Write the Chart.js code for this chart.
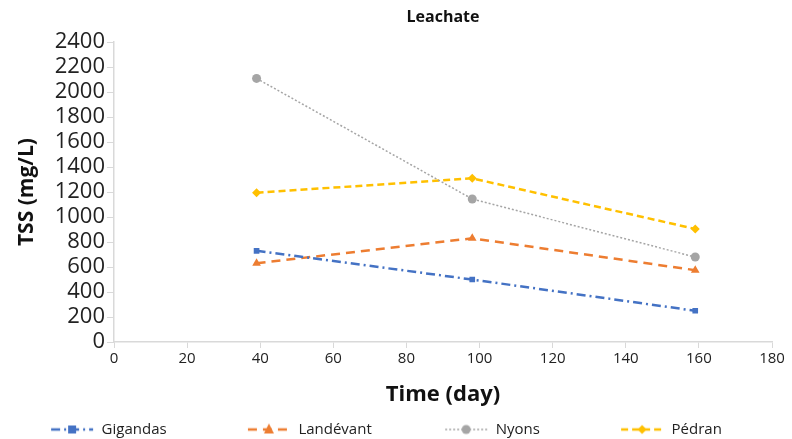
<!DOCTYPE html>
<html>
<head>
<meta charset="utf-8">
<script src="https://cdn.jsdelivr.net/npm/chart.js@4"></script>
<style>
  html,body{margin:0;padding:0;background:#fff;}
  #wrap{width:792px;height:439px;}
</style>
</head>
<body>
<div id="wrap"><canvas id="tss"></canvas></div>
<script>
// data
const days      = [39, 98, 159];
const gigandas  = [730, 500, 250];
const landevant = [630, 830, 575];
const nyons     = [2110, 1145, 680];
const pedran    = [1195, 1310, 905];
const xTicks    = [0, 20, 40, 60, 80, 100, 120, 140, 160, 180];
const yTicks    = [0, 200, 400, 600, 800, 1000, 1200, 1400, 1600, 1800, 2000, 2200, 2400];

const FONT = "'Open Sans', 'Liberation Sans', sans-serif";
const pts = vals => vals.map((v,i)=>({x:days[i], y:v}));

// gap: trailing spaces after the label so items spread out like excel's legend
const series = [
  {label:"Gigandas",  data:gigandas,  color:"#4472C4", dash:[9,4,2,4], width:2.5, style:"rect",     r:4,   gap:17},
  {label:"Landévant", data:landevant, color:"#ED7D31", dash:[9,6],     width:2.5, style:"triangle", r:5,   gap:15},
  {label:"Nyons",     data:nyons,     color:"#A5A5A5", dash:[2,2],     width:1.5, style:"circle",   r:4.5, gap:17},
  {label:"Pédran",    data:pedran,    color:"#FFC000", dash:[7,4],     width:2.5, style:"rectRot",  r:4.5, gap:0}
];

// little legend glyph: dashed line with marker in the middle
function legendGlyph(s){
  const c = document.createElement("canvas");
  c.width = 44; c.height = 14;
  const g = c.getContext("2d");
  g.strokeStyle = s.color; g.lineWidth = s.width; g.setLineDash(s.dash);
  g.beginPath(); g.moveTo(1,7); g.lineTo(43,7); g.stroke();
  g.setLineDash([]); g.fillStyle = s.color;
  const r = s.r;
  g.beginPath();
  if(s.style==="rect") g.rect(22-r,7-r,2*r,2*r);
  else if(s.style==="triangle"){ g.moveTo(22,7-r-1); g.lineTo(22+r,7+r-1); g.lineTo(22-r,7+r-1); g.closePath(); }
  else if(s.style==="circle") g.arc(22,7,r,0,Math.PI*2);
  else { g.moveTo(22,7-r); g.lineTo(22+r,7); g.lineTo(22,7+r); g.lineTo(22-r,7); g.closePath(); }
  g.fill();
  return c;
}

new Chart(document.getElementById("tss"), {
  type: "line",
  data: {
    datasets: series.map(s=>({
      label: s.label,
      data: pts(s.data),
      borderColor: s.color,
      backgroundColor: s.color,
      borderWidth: s.width,
      borderDash: s.dash,
      pointStyle: s.style,
      pointRadius: s.r,
      pointBorderWidth: 0,
      pointBackgroundColor: s.color,
      fill: false,
      tension: 0,
      legendImg: legendGlyph(s),
      legendGap: s.gap
    }))
  },
  options: {
    responsive: true,
    maintainAspectRatio: false,
    animation: false,
    layout: {padding:{left:0, right:20, top:0, bottom:-8}},
    plugins: {
      title: {
        display: true, text: "Leachate", color: "#111", fullSize: false,
        font: {family: FONT, size: 16, weight: "bold"},
        padding: {top: 8, bottom: 15}
      },
      legend: {
        position: "bottom",
        labels: {
          usePointStyle: true,
          pointStyleWidth: 44,
          padding: 14,
          color: "#222",
          font: {family: FONT, size: 15},
          generateLabels: chart => chart.data.datasets.map((d,i)=>({
            text: d.label + " ".repeat(d.legendGap), pointStyle: d.legendImg, fillStyle: d.borderColor,
            strokeStyle: d.borderColor, lineWidth: 0, datasetIndex: i, fontColor: "#222"
          }))
        }
      },
      tooltip: {enabled: false}
    },
    scales: {
      x: {
        type: "linear", min: 0, max: 180,
        afterBuildTicks: sc => { sc.ticks = xTicks.map(v=>({value:v})); },
        grid: {display: true, drawOnChartArea: false, drawTicks: true, tickLength: 6, color: "#D9D9D9"},
        border: {color: "#D9D9D9", width: 1.5},
        ticks: {color: "#222", font: {family: FONT, size: 15}, padding: 2, maxRotation: 0, callback: v => String(v)},
        title: {display: true, text: "Time (day)", color: "#111",
                font: {family: FONT, size: 22, weight: "bold"}, padding: {top: 10, bottom: 0}},
        afterFit: sc => { sc.height = 66; }
      },
      y: {
        min: 0, max: 2400,
        afterBuildTicks: sc => { sc.ticks = yTicks.map(v=>({value:v})); },
        grid: {display: true, drawOnChartArea: false, drawTicks: true, tickLength: 7, color: "#D9D9D9"},
        border: {color: "#D9D9D9", width: 1.5},
        ticks: {color: "#222", font: {family: FONT, size: 22}, padding: 2, autoSkip: false, callback: v => String(v)},
        title: {display: true, text: "TSS (mg/L)", color: "#111",
                font: {family: FONT, size: 21, weight: "bold"}, padding: {top: 14, bottom: 2}},
        afterFit: sc => { sc.width = 114; }
      }
    }
  }
});
</script>
</body>
</html>
